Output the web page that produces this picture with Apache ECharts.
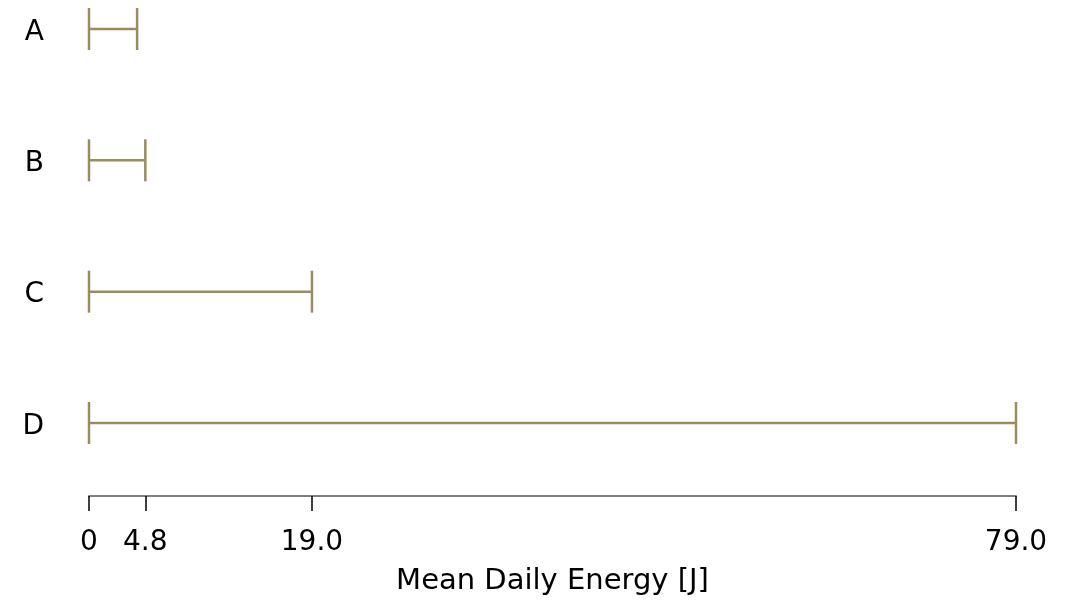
<!DOCTYPE html>
<html>
<head>
<meta charset="utf-8">
<script src="https://cdn.jsdelivr.net/npm/echarts@6/dist/echarts.min.js"></script>
<style>
  html, body { margin: 0; padding: 0; background: #fff; }
  #chart { width: 1079px; height: 603px; }
</style>
</head>
<body>
<div id="chart"></div>
<script>
// data
const categories = ['A', 'B', 'C', 'D']
const startValues = [0, 0, 0, 0]
const endValues = [4.1, 4.8, 19.0, 79.0]
const tickValues = [0, 4.8, 19.0, 79.0]

const lineColor = '#9a8d5c'
const font = 'DejaVu Sans, sans-serif'

const myChart = echarts.init(document.getElementById('chart'))

const seriesData = categories.map((c, i) => [startValues[i], endValues[i], i])

const option = {
  animation: false,
  grid: {
    left: 89,
    right: 63,
    top: 29,
    bottom: 180
  },
  xAxis: {
    type: 'value',
    min: 0,
    max: 79,
    offset: 73,
    name: 'Mean Daily Energy [J]',
    nameLocation: 'middle',
    nameGap: 71,
    nameTextStyle: {
      color: '#000',
      fontSize: 29,
      fontFamily: font
    },
    splitLine: { show: false },
    axisLine: {
      show: true,
      lineStyle: { color: '#808080', width: 2 }
    },
    axisTick: {
      show: true,
      customValues: tickValues,
      length: 15,
      lineStyle: { color: '#000', width: 1.5 }
    },
    axisLabel: {
      customValues: tickValues,
      margin: 33,
      color: '#000',
      fontSize: 28,
      fontFamily: font,
      formatter(val) {
        return val === 0 ? '0' : val.toFixed(1)
      }
    }
  },
  yAxis: {
    type: 'category',
    data: categories,
    inverse: true,
    boundaryGap: false,
    axisLine: { show: false },
    axisTick: { show: false },
    splitLine: { show: false },
    axisLabel: {
      margin: 45,
      formatter: '{c|{value}}',
      rich: {
        c: {
          padding: [7, 0, 0, 0],
          color: '#000',
          fontSize: 28,
          fontFamily: font
        }
      }
    }
  },
  series: [{
    type: 'custom',
    data: seriesData,
    encode: { x: [0, 1], y: 2 },
    renderItem(params, api) {
      const cat = api.value(2)
      const p0 = api.coord([api.value(0), cat])
      const p1 = api.coord([api.value(1), cat])
      const half = 21
      const style = { stroke: lineColor, lineWidth: 2.5 }
      return {
        type: 'group',
        children: [
          { type: 'line', shape: { x1: p0[0], y1: p0[1], x2: p1[0], y2: p1[1] }, style },
          { type: 'line', shape: { x1: p0[0], y1: p0[1] - half, x2: p0[0], y2: p0[1] + half }, style },
          { type: 'line', shape: { x1: p1[0], y1: p1[1] - half, x2: p1[0], y2: p1[1] + half }, style }
        ]
      }
    }
  }]
}

myChart.setOption(option)
</script>
</body>
</html>
